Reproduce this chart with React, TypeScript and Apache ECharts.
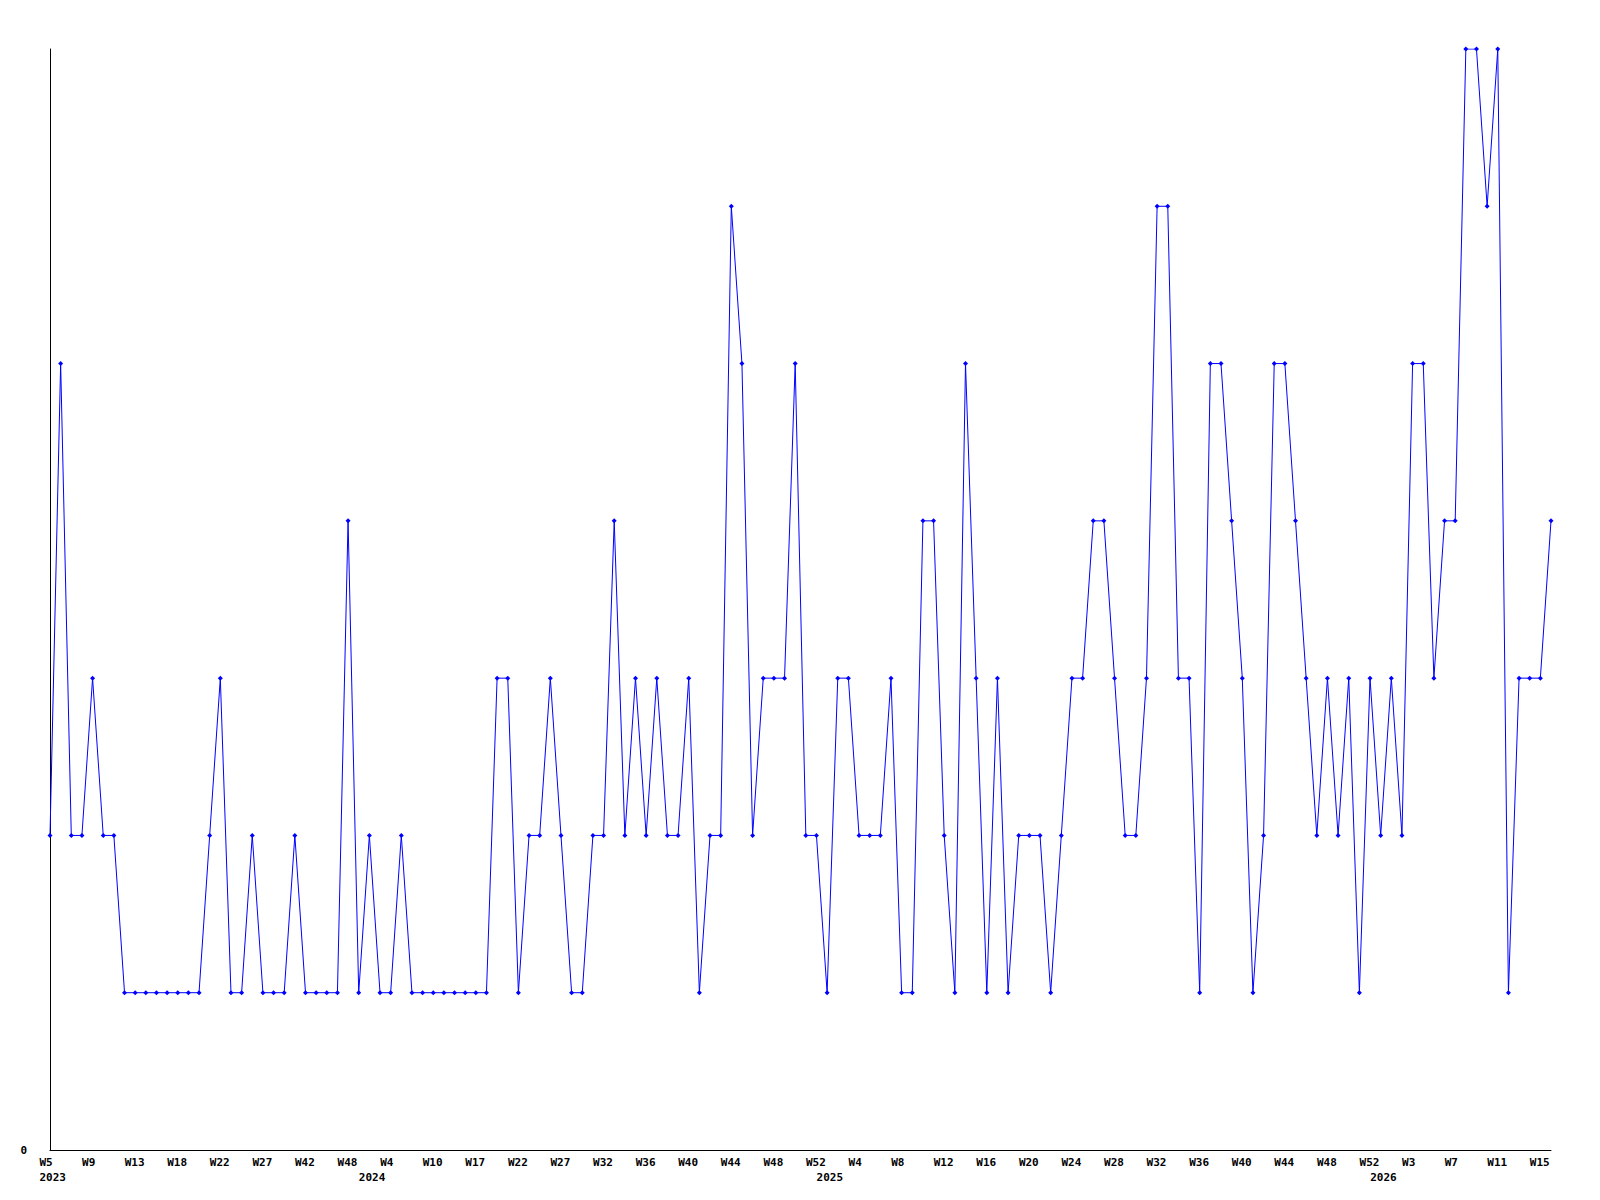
import React, { useEffect, useRef } from "react";
import * as echarts from "echarts";

const weeks2023 = [5, 6, 7, 8, 9, 10, 11, 12, 13, 14, 15, 16, 18, 19, 20, 21, 22, 23, 24, 26, 27, 30, 35, 39, 42, 44, 45, 47, 48, 50];
const weeks2024 = [1, 2, 4, 6, 7, 9, 10, 12, 14, 15, 17, 18, 19, 21, 22, 23, 24, 26, 27, 28, 29, 31, 32, 33, 34, 35, 36, 37, 38, 39, 40, 41, 42, 43, 44, 45, 46, 47, 48, 49, 50, 51, 52];
const weeks2025 = [1, 2, 3, 4, 5, 6, 7, 8, 9, 10, 11, 12, 13, 14, 15, 16, 17, 18, 19, 20, 21, 22, 23, 24, 25, 26, 27, 28, 29, 30, 31, 32, 33, 34, 35, 36, 37, 38, 39, 40, 41, 42, 43, 44, 45, 46, 47, 48, 49, 50, 51, 52];
const weeks2026 = [0, 1, 2, 3, 4, 5, 6, 7, 8, 9, 10, 11, 12, 13, 14, 15, 16];

const values = [
  2, 5, 2, 2, 3, 2, 2, 1, 1, 1,
  1, 1, 1, 1, 1, 2, 3, 1, 1, 2,
  1, 1, 1, 2, 1, 1, 1, 1, 4, 1,
  2, 1, 1, 2, 1, 1, 1, 1, 1, 1,
  1, 1, 3, 3, 1, 2, 2, 3, 2, 1,
  1, 2, 2, 4, 2, 3, 2, 3, 2, 2,
  3, 1, 2, 2, 6, 5, 2, 3, 3, 3,
  5, 2, 2, 1, 3, 3, 2, 2, 2, 3,
  1, 1, 4, 4, 2, 1, 5, 3, 1, 3,
  1, 2, 2, 2, 1, 2, 3, 3, 4, 4,
  3, 2, 2, 3, 6, 6, 3, 3, 1, 5,
  5, 4, 3, 1, 2, 5, 5, 4, 3, 2,
  3, 2, 3, 1, 3, 2, 3, 2, 5, 5,
  3, 4, 4, 7, 7, 6, 7, 1, 3, 3,
  3, 4,
];

const yearBlocks: [number, number[]][] = [
  [2023, weeks2023],
  [2024, weeks2024],
  [2025, weeks2025],
  [2026, weeks2026],
];

const categories: string[] = [];
const catYears: number[] = [];
yearBlocks.forEach(([y, ws]) => {
  ws.forEach((w) => {
    categories.push(`${y}-W${w}`);
    catYears.push(y);
  });
});
const yearStart = new Set<number>();
catYears.forEach((y, i) => {
  if (i === 0 || catYears[i - 1] !== y) yearStart.add(i);
});

const FONT = "DejaVu Sans Mono";

export default function App() {
  const ref = useRef<HTMLDivElement>(null);
  useEffect(() => {
    if (!ref.current) return;
    const chart = echarts.init(ref.current, null, { renderer: "svg" });
    const labelStyle = {
      fontFamily: FONT,
      fontWeight: "bold" as const,
      fontSize: 11,
      color: "#000",
    };
    chart.setOption({
      animation: false,
      backgroundColor: "#fff",
      grid: [
        { left: 50, right: 49, top: 49, bottom: 50 },
        { left: 39.5, right: 59.5, top: 49, bottom: 50 },
      ],
      xAxis: [
        {
          gridIndex: 0,
          type: "category",
          data: categories,
          boundaryGap: false,
          axisLine: { show: true, lineStyle: { color: "#000", width: 1 } },
          axisTick: { show: false },
          axisLabel: { show: false },
          splitLine: { show: false },
        },
        {
          gridIndex: 1,
          type: "category",
          data: categories,
          boundaryGap: false,
          axisLine: { show: false },
          axisTick: { show: false },
          splitLine: { show: false },
          axisLabel: {
            ...labelStyle,
            interval: 3,
            align: "left",
            margin: 7,
            formatter: (v: string) => v.split("-")[1],
          },
        },
        {
          gridIndex: 1,
          type: "category",
          data: categories,
          boundaryGap: false,
          position: "bottom",
          offset: 15,
          axisLine: { show: false },
          axisTick: { show: false },
          splitLine: { show: false },
          axisLabel: {
            ...labelStyle,
            interval: (i: number) => yearStart.has(i),
            align: "left",
            margin: 7,
            formatter: (v: string) => v.split("-")[0],
          },
        },
      ],
      yAxis: [
        {
          gridIndex: 0,
          type: "value",
          min: 0,
          max: 7,
          interval: 7,
          axisLine: { show: true, lineStyle: { color: "#000", width: 1 } },
          axisTick: { show: false },
          splitLine: { show: false },
          axisLabel: {
            ...labelStyle,
            margin: 23,
            formatter: (v: number) => (v === 0 ? "0" : ""),
          },
        },
        { gridIndex: 1, type: "value", min: 0, max: 7, show: false },
      ],
      series: [
        {
          type: "line",
          xAxisIndex: 0,
          yAxisIndex: 0,
          data: values,
          symbol: "diamond",
          symbolSize: 5,
          showSymbol: true,
          lineStyle: { color: "#0000ff", width: 1 },
          itemStyle: { color: "#0000ff" },
        },
      ],
    });
    return () => chart.dispose();
  }, []);
  return (
    <div
      ref={ref}
      style={{ position: "fixed", left: 0, top: 0, width: 1600, height: 1200, background: "#fff" }}
    />
  );
}
